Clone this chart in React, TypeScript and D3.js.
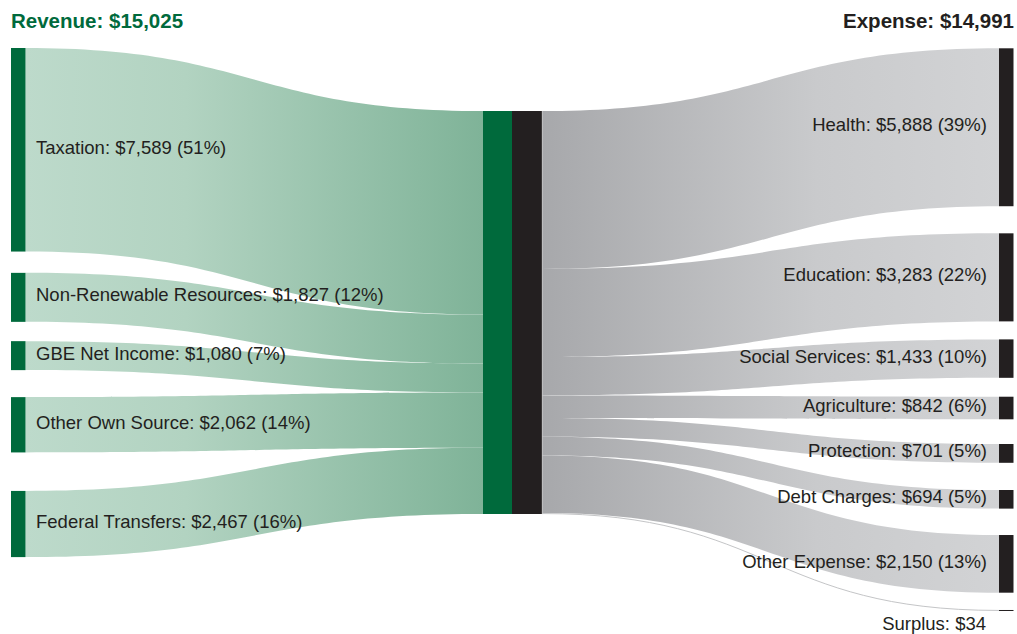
import React from "react";
import * as d3 from "d3";

// ---------- Data ----------
const revenueCategories = [
  "Taxation",
  "Non-Renewable Resources",
  "GBE Net Income",
  "Other Own Source",
  "Federal Transfers",
];
const revenueValues = [7589, 1827, 1080, 2062, 2467];
const revenuePct = [51, 12, 7, 14, 16];

const expenseCategories = [
  "Health",
  "Education",
  "Social Services",
  "Agriculture",
  "Protection",
  "Debt Charges",
  "Other Expense",
];
const expenseValues = [5888, 3283, 1433, 842, 701, 694, 2150];
const expensePct = [39, 22, 10, 6, 5, 5, 13];

const surplusLabel = "Surplus";
const surplusValue = 34;

const totalRevenue = 15025;
const totalExpense = 14991;

// ---------- Layout ----------
const W = 1017;
const H = 634;
const leftNodeX = 11;
const nodeW = 14.5;
const centerGreenX = 483;
const centerBlackX = 512;
const centerBlackX1 = 542;
const rightNodeX = 999;
const topY = 48;
const rightTopY = 48.3;
const centerTopY = 111;
const centerHeight = 403;
const leftGaps = [21.3, 19.3, 27, 38.5];
const rightGaps = [27.1, 18, 18.9, 24.7, 27.2, 26.4, 17.3];

const GREEN = "#006a3c";
const DARK = "#231f20";
const FONT = "'Liberation Sans', Arial, Helvetica, sans-serif";

const fmt = d3.format("$,");

const h = d3.scaleLinear().domain([0, totalRevenue]).range([0, centerHeight]);

function linkPath(x0: number, x1: number, s0: number, s1: number, t0: number, t1: number) {
  const xm = (x0 + x1) / 2;
  const p = d3.path();
  p.moveTo(x0, s0);
  p.bezierCurveTo(xm, s0, xm, t0, x1, t0);
  p.lineTo(x1, t1);
  p.bezierCurveTo(xm, t1, xm, s1, x0, s1);
  p.closePath();
  return p.toString();
}

export default function App() {
  const leftNodes: { y0: number; y1: number; t0: number; t1: number }[] = [];
  let y = topY;
  let cy = centerTopY;
  revenueValues.forEach((v, i) => {
    const hh = h(v);
    leftNodes.push({ y0: y, y1: y + hh, t0: cy, t1: cy + hh });
    y += hh + (leftGaps[i] ?? 0);
    cy += hh;
  });

  const rightVals = [...expenseValues, surplusValue];
  const rightNodes: { y0: number; y1: number; s0: number; s1: number }[] = [];
  y = rightTopY;
  cy = centerTopY;
  rightVals.forEach((v, i) => {
    const hh = h(v);
    rightNodes.push({ y0: y, y1: y + hh, s0: cy, s1: cy + hh });
    y += hh + (rightGaps[i] ?? 0);
    cy += hh;
  });

  const leftX1 = leftNodeX + nodeW;
  const surplusNode = rightNodes[rightNodes.length - 1];

  return (
    <svg
      width={W}
      height={H}
      viewBox={`0 0 ${W} ${H}`}
      style={{ position: "absolute", left: 0, top: 0, background: "#fff" }}
      fontFamily={FONT}
    >
      <defs>
        <linearGradient id="gL" gradientUnits="userSpaceOnUse" x1={leftX1} x2={centerGreenX} y1={0} y2={0}>
          <stop offset="0" stopColor="#bddacb" />
          <stop offset="0.35" stopColor="#b2d3c1" />
          <stop offset="1" stopColor="#7fb398" />
        </linearGradient>
        <linearGradient id="gR" gradientUnits="userSpaceOnUse" x1={centerBlackX1} x2={rightNodeX} y1={0} y2={0}>
          <stop offset="0" stopColor="#a7a8ab" />
          <stop offset="0.6" stopColor="#c9cacc" />
          <stop offset="1" stopColor="#d2d3d5" />
        </linearGradient>
      </defs>

      {/* Titles */}
      <text x={11} y={27.5} fill={GREEN} fontSize={20.5} fontWeight="bold">
        {`Revenue: ${fmt(totalRevenue)}`}
      </text>
      <text x={1014} y={27.5} fill={DARK} fontSize={20.5} fontWeight="bold" textAnchor="end">
        {`Expense: ${fmt(totalExpense)}`}
      </text>

      {/* Left links */}
      {leftNodes.map((n, i) => (
        <path key={"ll" + i} d={linkPath(leftX1, centerGreenX, n.y0, n.y1, n.t0, n.t1)} fill="url(#gL)" />
      ))}

      {/* Right links */}
      {rightNodes.slice(0, -1).map((n, i) => (
        <path key={"rl" + i} d={linkPath(centerBlackX1, rightNodeX, n.s0, n.s1, n.y0, n.y1)} fill="url(#gR)" />
      ))}
      {/* Surplus link (thin) */}
      <path
        d={(() => {
          const s = (surplusNode.s0 + surplusNode.s1) / 2;
          const t = (surplusNode.y0 + surplusNode.y1) / 2;
          const xm = (centerBlackX1 + rightNodeX) / 2;
          const p = d3.path();
          p.moveTo(centerBlackX1, s);
          p.bezierCurveTo(xm, s, xm, t, rightNodeX, t);
          return p.toString();
        })()}
        fill="none"
        stroke="#c4c5c7"
        strokeWidth={Math.max(1, h(surplusValue))}
      />

      {/* Center nodes */}
      <rect x={centerGreenX} y={centerTopY} width={centerBlackX - centerGreenX} height={centerHeight} fill={GREEN} />
      <rect x={centerBlackX} y={centerTopY} width={centerBlackX1 - centerBlackX} height={centerHeight} fill={DARK} />
      <line x1={centerBlackX1 + 0.3} x2={centerBlackX1 + 0.3} y1={centerTopY} y2={centerTopY + centerHeight} stroke="#c9c9cb" strokeWidth={0.8} />

      {/* Left nodes + labels */}
      {leftNodes.map((n, i) => (
        <g key={"ln" + i}>
          <rect x={leftNodeX} y={n.y0} width={nodeW} height={n.y1 - n.y0} fill={GREEN} />
          <text x={36} y={(n.y0 + n.y1) / 2 + 4} fontSize={18.5} fill={DARK}>
            {`${revenueCategories[i]}: ${fmt(revenueValues[i])} (${revenuePct[i]}%)`}
          </text>
        </g>
      ))}

      {/* Right nodes + labels */}
      {rightNodes.slice(0, -1).map((n, i) => (
        <g key={"rn" + i}>
          <rect x={rightNodeX} y={n.y0} width={nodeW} height={n.y1 - n.y0} fill={DARK} />
          <text x={987} y={(n.y0 + n.y1) / 2 + 4} fontSize={18.5} fill={DARK} textAnchor="end">
            {`${expenseCategories[i]}: ${fmt(expenseValues[i])} (${expensePct[i]}%)`}
          </text>
        </g>
      ))}
      <rect
        x={rightNodeX}
        y={surplusNode.y0}
        width={nodeW}
        height={Math.max(1, surplusNode.y1 - surplusNode.y0)}
        fill={DARK}
      />
      <text x={986} y={surplusNode.y0 + 20} fontSize={18.5} fill={DARK} textAnchor="end">
        {`${surplusLabel}: ${fmt(surplusValue)}`}
      </text>
    </svg>
  );
}
